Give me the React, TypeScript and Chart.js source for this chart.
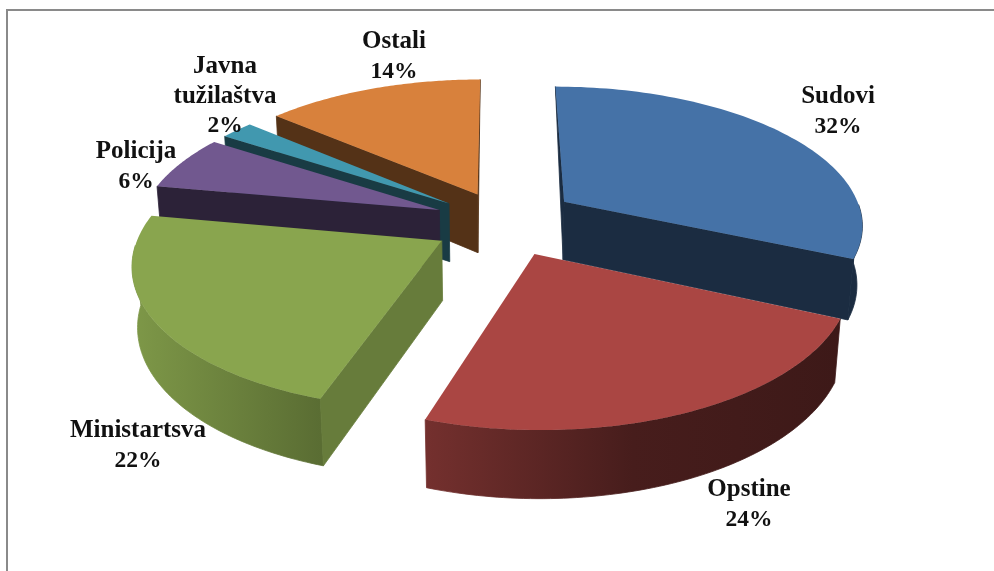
import React, { useEffect, useRef } from "react";
import { Chart, registerables } from "chart.js";

Chart.register(...registerables);

const categories = ["Sudovi", "Opstine", "Ministartsva", "Policija", "Javna\ntužilaštva", "Ostali"];
const shares = [31.7, 23.4, 22.8, 6.3, 2.1, 13.7];
const shareLabels = ["32%", "24%", "22%", "6%", "2%", "14%"];
const explode = [83, 80, 62, 65, 65, 50];
const topColors = ["#4572A7", "#AA4643", "#89A54E", "#71588F", "#4198AF", "#D8813C"];
const drawOrder = [5, 4, 3, 0, 2, 1];
const nudges = [[-1, 4], [4, 1], [-1, 8], [2, 3], [3, 3], [1, -3]];
const labelCentres = [
  [838, 97], [749, 490], [138, 431], [136, 152], [225, 67], [394, 42],
];

const RADIUS = 300;
const X0 = 497;
const Y0 = 218;
const TILT = 0.46;
const K = 0.0005;
const KZ = 0.00025;
const DEPTH = 60;

const project = (u: number, v: number, z: number): [number, number] => {
  const s = 1 / (1 - K * v + KZ * z);
  return [X0 + u * s, Y0 + (TILT * v + z) * s];
};

const shade = (hex: string, f: number) => {
  const n = parseInt(hex.slice(1), 16);
  const c = [(n >> 16) & 255, (n >> 8) & 255, n & 255].map((x) => Math.round(x * f));
  return `rgb(${c[0]},${c[1]},${c[2]})`;
};

const tracePath = (ctx: CanvasRenderingContext2D, pts: [number, number][]) => {
  ctx.beginPath();
  pts.forEach((p, i) => (i ? ctx.lineTo(p[0], p[1]) : ctx.moveTo(p[0], p[1])));
  ctx.closePath();
};

const pie3d = {
  id: "pie3d",
  beforeDatasetDraw(chart: any) {
    const ctx: CanvasRenderingContext2D = chart.ctx;
    const arcs = chart.getDatasetMeta(0).data;
    drawOrder.forEach((i) => {
      const el = arcs[i];
      const { startAngle, endAngle } = el;
      const color: string = el.options.backgroundColor;
      const off = el.options.offset as number;
      const mid = (startAngle + endAngle) / 2;
      const au = Math.cos(mid) * off;
      const av = Math.sin(mid) * off;
      const angles: number[] = [];
      const steps = 80;
      for (let k = 0; k <= steps; k++) angles.push(startAngle + ((endAngle - startAngle) * k) / steps);
      const rim = angles.map((a): [number, number] => [au + Math.cos(a) * RADIUS, av + Math.sin(a) * RADIUS]);
      const [nx, ny] = nudges[i];
      const P = (p: [number, number], z: number): [number, number] => {
        const q = project(p[0], p[1], z);
        return [q[0] + nx, q[1] + ny];
      };
      const apex: [number, number] = [au, av];
      const top = rim.map((p) => P(p, 0));
      // outer wall: only the part that faces the viewer
      const front = rim.filter((_, k) => Math.sin(angles[k]) > 0.02);
      if (front.length > 1) {
        const xs = top.map((p) => p[0]);
        const grad = ctx.createLinearGradient(Math.min(...xs), 0, Math.max(...xs), 0);
        if (i === 2) {
          grad.addColorStop(0, shade(color, 0.92));
          grad.addColorStop(1, shade(color, 0.66));
        } else if (i === 1) {
          grad.addColorStop(0, shade(color, 0.68));
          grad.addColorStop(0.5, shade(color, 0.42));
          grad.addColorStop(1, shade(color, 0.36));
        } else {
          grad.addColorStop(0, shade(color, 0.39));
          grad.addColorStop(1, shade(color, 0.39));
        }
        ctx.fillStyle = grad;
        ctx.strokeStyle = grad;
        ctx.lineWidth = 0.8;
        tracePath(ctx, [...front.map((p) => P(p, 0)), ...front.map((p) => P(p, DEPTH)).reverse()]);
        ctx.fill();
        ctx.stroke();
      }
      // cut faces: only those turned towards the viewer
      const cutFactor = i === 2 ? 0.75 : 0.39;
      const faces: [[number, number], number][] = [
        [rim[0], -Math.cos(startAngle)],
        [rim[steps], Math.cos(endAngle)],
      ];
      faces.forEach(([edge, facing]) => {
        if (facing < -0.02) return;
        ctx.fillStyle = shade(color, cutFactor);
        ctx.strokeStyle = ctx.fillStyle;
        ctx.lineWidth = 0.8;
        const grazing = facing < 0.02;
        tracePath(
          ctx,
          grazing
            ? [P(apex, 0), P(edge, 0), P(apex, DEPTH)]
            : [P(apex, 0), P(edge, 0), P(edge, DEPTH), P(apex, DEPTH)],
        );
        ctx.fill();
        ctx.stroke();
      });
      // top face
      ctx.fillStyle = color;
      tracePath(ctx, [P(apex, 0), ...top]);
      ctx.fill();
    });
    return false;
  },
  afterDraw(chart: any) {
    const ctx: CanvasRenderingContext2D = chart.ctx;
    ctx.save();
    ctx.strokeStyle = "#8a8a8a";
    ctx.lineWidth = 2;
    ctx.beginPath();
    ctx.moveTo(7, 571);
    ctx.lineTo(7, 10);
    ctx.lineTo(994, 10);
    ctx.stroke();
    ctx.fillStyle = "#111";
    ctx.textAlign = "center";
    ctx.textBaseline = "middle";
    chart.data.labels.forEach((label: string, i: number) => {
      const words = label.split("\n");
      const [x, y] = labelCentres[i];
      ctx.font = 'bold 25px "Liberation Serif"';
      words.forEach((t, j) => ctx.fillText(t, x, y + j * 30));
      ctx.font = 'bold 23.5px "Liberation Serif"';
      ctx.fillText(shareLabels[i], x, y + words.length * 29.5);
    });
    ctx.restore();
  },
};

export default function App() {
  const ref = useRef<HTMLCanvasElement>(null);
  useEffect(() => {
    document.body.style.margin = "0";
    const chart = new Chart(ref.current!, {
      type: "pie",
      data: {
        labels: categories,
        datasets: [{ data: shares, backgroundColor: topColors, offset: explode, borderWidth: 0 }],
      },
      options: {
        responsive: false,
        animation: false,
        plugins: { legend: { display: false }, tooltip: { enabled: false } },
      },
      plugins: [pie3d],
    } as any);
    return () => chart.destroy();
  }, []);
  return <canvas ref={ref} width={994} height={571} style={{ display: "block", background: "#fff" }} />;
}
